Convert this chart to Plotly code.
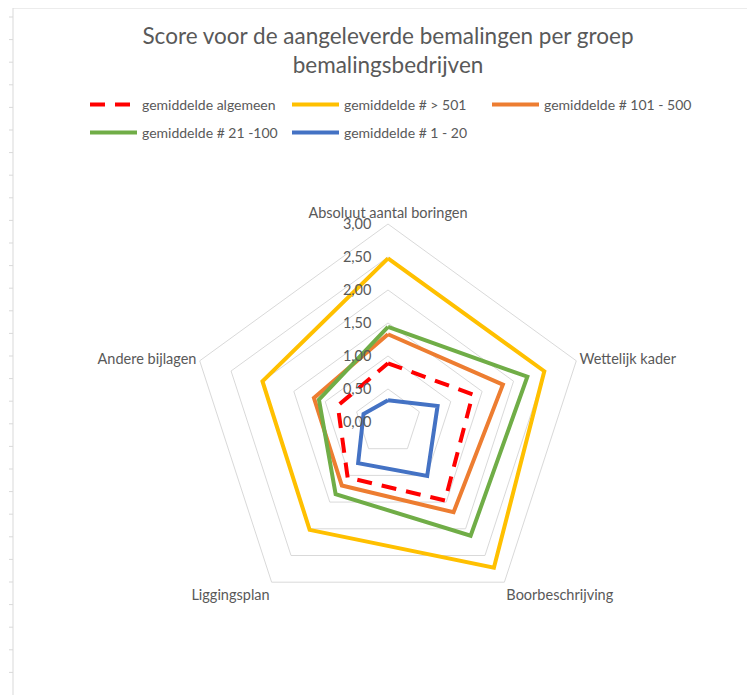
import plotly.graph_objects as go

categories = [
    "Absoluut aantal boringen",
    "Wettelijk kader",
    "Boorbeschrijving",
    "Liggingsplan",
    "Andere bijlagen",
]

series_names = [
    "gemiddelde algemeen",
    "gemiddelde # > 501",
    "gemiddelde # 101 - 500",
    "gemiddelde # 21 -100",
    "gemiddelde # 1 - 20",
]

algemeen = [0.89, 1.35, 1.47, 1.04, 0.80]
groep_501 = [2.48, 2.49, 2.73, 2.02, 2.00]
groep_101_500 = [1.33, 1.83, 1.69, 1.19, 1.18]
groep_21_100 = [1.44, 2.22, 2.13, 1.35, 1.10]
groep_1_20 = [0.33, 0.79, 1.01, 0.77, 0.39]

tick_vals = [0, 0.5, 1.0, 1.5, 2.0, 2.5, 3.0]
tick_text = ["0,00", "0,50", "1,00", "1,50", "2,00", "2,50", "3,00"]

W, H = 755, 695
OFF = 8  # the page body adds an 8 px margin
FONT = "Lato"
GREY = "#595959"
GRID = "#d9d9d9"


def px(x):
    return (x - OFF) / W


def py(y):
    return 1 - (y - OFF) / H


series = [
    (series_names[0], algemeen, "#FF0000", "15px,10px"),
    (series_names[1], groep_501, "#FFC000", "solid"),
    (series_names[2], groep_101_500, "#ED7D31", "solid"),
    (series_names[3], groep_21_100, "#70AD47", "solid"),
    (series_names[4], groep_1_20, "#4472C4", "solid"),
]
# legend slot (left x, middle y) in screen pixels for each series
legend_slots = [(85, 105), (287, 105), (487, 105), (85, 133), (287, 133)]

fig = go.Figure()
legends = {}
for i, (name, vals, color, dash) in enumerate(series):
    key = "legend" if i == 0 else f"legend{i + 1}"
    fig.add_trace(go.Scatterpolar(
        r=vals + vals[:1],
        theta=categories + categories[:1],
        mode="lines",
        name=name,
        showlegend=True,
        line=dict(color=color, width=4, dash=dash),
        legend=key,
    ))
    lx, ly = legend_slots[i]
    legends[key] = dict(
        x=px(lx), y=py(ly),
        xanchor="left", yanchor="middle",
        orientation="h",
        itemwidth=47,
        font=dict(family=FONT, size=14, color=GREY),
        bgcolor="rgba(0,0,0,0)",
    )

# polar area: centre (388, 422), radius 198 px
cx, cy, rad = 388, 422, 198

fig.update_layout(
    width=W,
    height=H,
    showlegend=True,
    margin=dict(l=0, r=0, t=0, b=0),
    paper_bgcolor="white",
    plot_bgcolor="white",
    font=dict(family=FONT, color=GREY),
    title=dict(
        text="Score voor de aangeleverde bemalingen per groep<br>bemalingsbedrijven",
        x=px(388),
        y=py(44),
        xanchor="center",
        yanchor="middle",
        font=dict(family=FONT, size=22.5, color=GREY),
    ),
    polar=dict(
        domain=dict(x=[px(cx - rad), px(cx + rad)], y=[py(cy + rad), py(cy - rad)]),
        bgcolor="white",
        gridshape="linear",
        radialaxis=dict(
            range=[0, 3],
            tickvals=tick_vals,
            ticktext=tick_text,
            angle=90,
            tickangle=90,
            side="counterclockwise",
            showline=False,
            ticks="outside",
            ticklen=11,
            tickcolor="rgba(0,0,0,0)",
            gridcolor=GRID,
            gridwidth=1,
            tickfont=dict(family=FONT, size=14.5, color=GREY),
        ),
        angularaxis=dict(
            rotation=90,
            direction="clockwise",
            showgrid=False,
            showline=True,
            linecolor=GRID,
            linewidth=1,
            ticks="",
            tickfont=dict(family=FONT, size=14.5, color=GREY),
        ),
    ),
    **legends,
)

# spreadsheet cell lines behind the chart
shapes = [
    dict(type="line", xref="paper", yref="paper", x0=px(13), x1=px(13), y0=0, y1=py(8),
         line=dict(color=GRID, width=1)),
    dict(type="line", xref="paper", yref="paper", x0=px(13), x1=1, y0=py(8), y1=py(8),
         line=dict(color=GRID, width=1)),
]
y = 17
while y < H:
    shapes.append(dict(type="line", xref="paper", yref="paper", x0=px(9), x1=px(13),
                       y0=py(y), y1=py(y), line=dict(color=GRID, width=1)))
    y += 22.6
x = 89
while x < W:
    shapes.append(dict(type="line", xref="paper", yref="paper", x0=px(x), x1=px(x),
                       y0=py(3), y1=py(8), line=dict(color=GRID, width=1)))
    x += 82.5
fig.update_layout(shapes=shapes)

fig.write_html("out.html")
